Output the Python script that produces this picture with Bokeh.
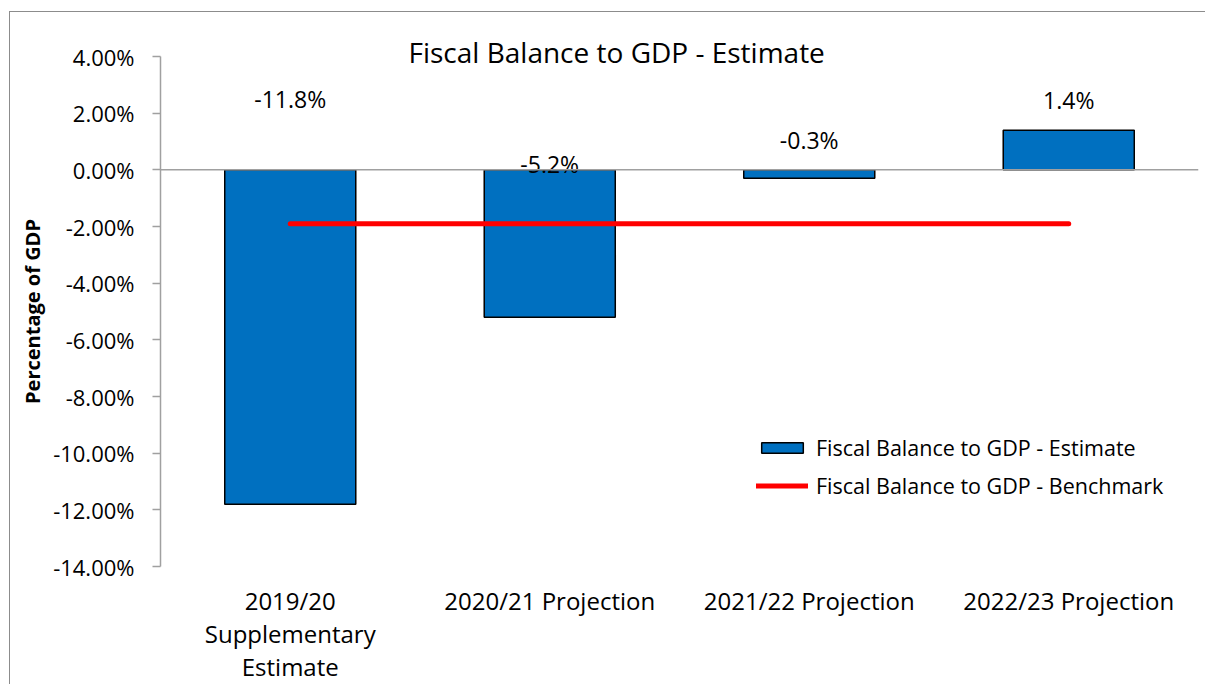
from bokeh.plotting import figure
from bokeh.models import Range1d, FactorRange, Span, PrintfTickFormatter, FixedTicker
from bokeh.core.properties import value
from bokeh.embed import file_html
from bokeh.resources import INLINE

# ---- data ----
categories = ["2019/20\nSupplementary\nEstimate", "2020/21 Projection",
              "2021/22 Projection", "2022/23 Projection"]
estimate = [-11.8, -5.2, -0.3, 1.4]
benchmark = [-1.9, -1.9, -1.9, -1.9]
value_labels = ["-11.8%", "-5.2%", "-0.3%", "1.4%"]
y_ticks = [4, 2, 0, -2, -4, -6, -8, -10, -12, -14]
title_text = "Fiscal Balance to GDP - Estimate"
y_title = "Percentage of GDP"
series_names = ["Fiscal Balance to GDP - Estimate", "Fiscal Balance to GDP - Benchmark"]

# label placement (positions, kept apart from the data)
label_y = [2.5, 0.2, 1.07, 2.47]

FONT = "Open Sans"

p = figure(x_range=FactorRange(*categories, range_padding=0),
           y_range=Range1d(-14, 4),
           width=1196, height=673,
           output_backend="svg", toolbar_location=None,
           min_border_left=150, min_border_right=8,
           min_border_top=44, min_border_bottom=118)
p.margin = (11, 0, 0, 9)
p.styles = {"border-left": "1px solid #8c8c8c", "border-top": "1px solid #8c8c8c"}
p.outline_line_color = None
p.xgrid.grid_line_color = None
p.ygrid.grid_line_color = None
p.background_fill_color = "white"
p.border_fill_color = "white"

# title
p.title.text = title_text
p.title.align = "left"
p.title.offset = 248
p.title.standoff = -28
p.title.text_font = FONT
p.title.text_font_size = "28px"
p.title.text_font_style = "normal"
p.title.text_color = "#000000"

# bars
p.vbar(x=categories, top=estimate, bottom=0, width=0.505,
       fill_color="#0070C0", line_color="#000000", line_width=1.5,
       legend_label=series_names[0])
# benchmark line
p.line(x=categories, y=benchmark, line_color="#FF0000", line_width=5,
       line_cap="round", legend_label=series_names[1])

# zero line
p.add_layout(Span(location=0, dimension="width", line_color="#a0a0a0", line_width=1.5))

# value labels
p.text(x=categories, y=label_y, text=value_labels, text_align="center",
       text_baseline="middle", text_font=value(FONT), text_font_size="23px",
       text_color="#000000")

# y axis
ya = p.yaxis[0]
ya.ticker = FixedTicker(ticks=y_ticks)
ya.formatter = PrintfTickFormatter(format="%.2f%%")
ya.axis_line_color = "#a0a0a0"
ya.axis_line_width = 1.5
ya.major_tick_line_color = "#a0a0a0"
ya.major_tick_line_width = 1.5
ya.major_tick_in = 0
ya.major_tick_out = 8
ya.minor_tick_line_color = None
ya.major_label_standoff = 18
ya.major_label_text_font = FONT
ya.major_label_text_font_size = "22px"
ya.major_label_text_color = "#000000"
ya.axis_label = y_title
ya.axis_label_text_font = FONT
ya.axis_label_text_font_style = "bold"
ya.axis_label_text_font_size = "20px"
ya.axis_label_text_color = "#000000"
ya.axis_label_standoff = 4

# x axis
xa = p.xaxis[0]
xa.axis_line_color = None
xa.major_tick_line_color = None
xa.minor_tick_line_color = None
xa.major_tick_in = 0
xa.major_tick_out = 0
xa.major_label_standoff = 17
xa.major_label_text_font = FONT
xa.major_label_text_font_size = "24px"
xa.major_label_text_color = "#000000"
xa.major_label_text_line_height = 1.0
xa.major_label_orientation = "horizontal"

# legend
lg = p.legend[0]
lg.location = (596, 66)
lg.glyph_width = 52
lg.glyph_height = 13
lg.label_standoff = 8
lg.padding = 0
lg.margin = 0
lg.spacing = 9
lg.border_line_color = None
lg.background_fill_alpha = 0
lg.label_text_font = FONT
lg.label_text_font_size = "21.5px"
lg.label_text_color = "#000000"

open("out.html", "w").write(file_html(p, INLINE))
